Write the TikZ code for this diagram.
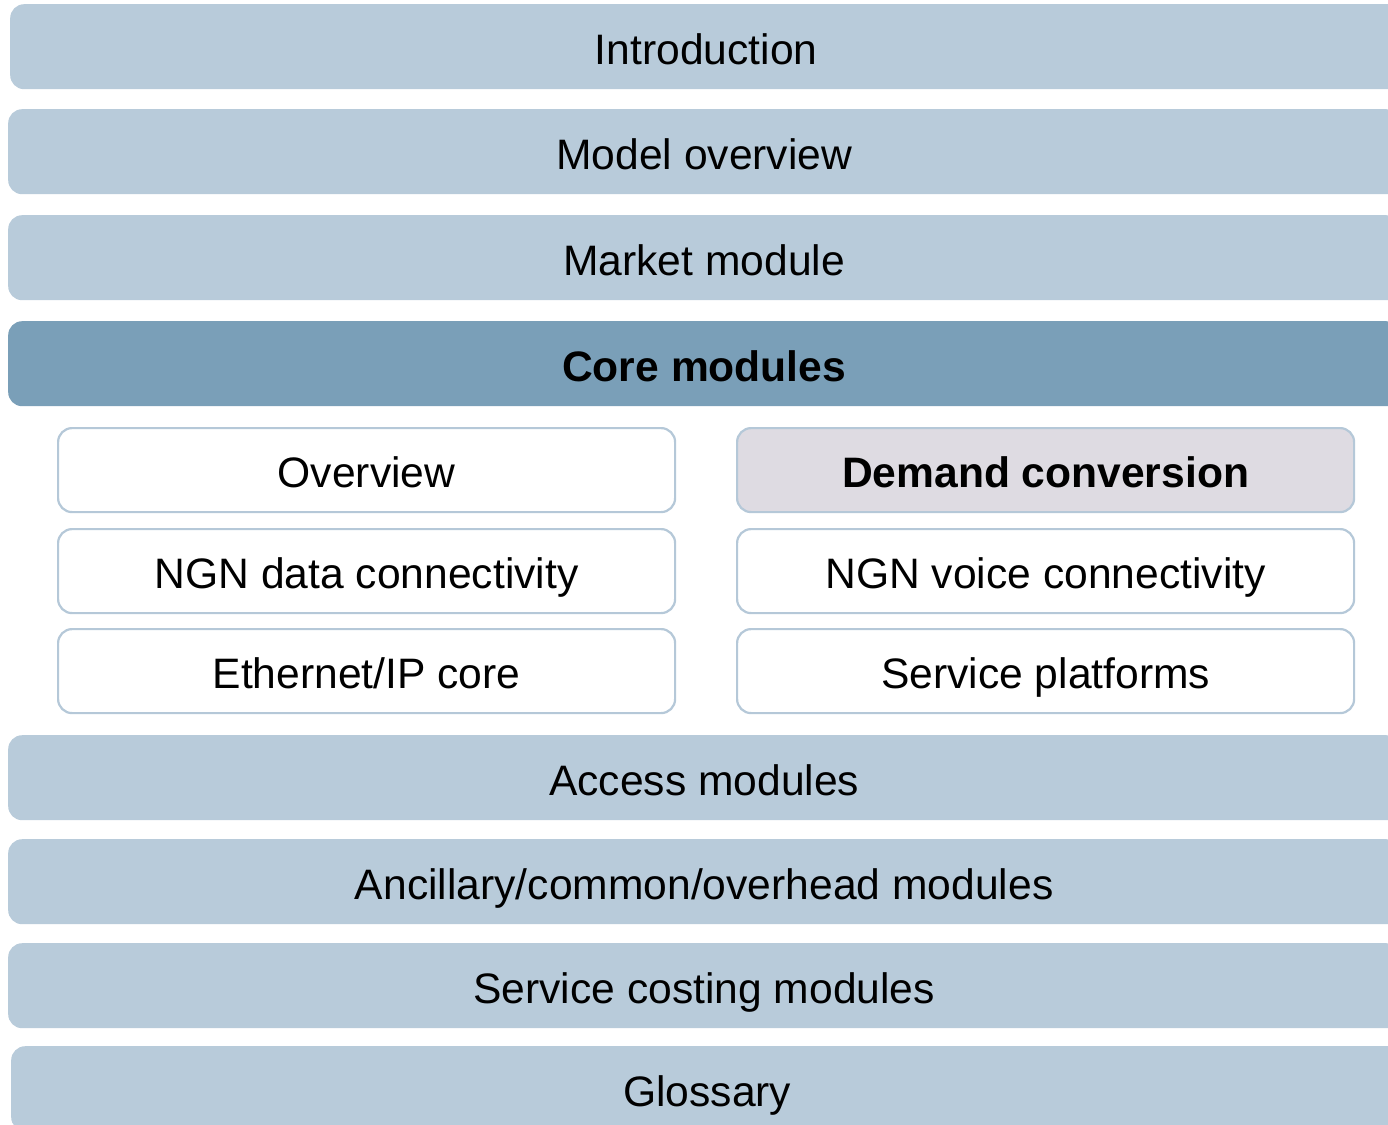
\documentclass[tikz,border=0pt]{standalone}
\usepackage{fontspec}
\setmainfont{Liberation Sans}
\definecolor{barblue}{HTML}{B8CBDA}
\definecolor{coreblue}{HTML}{7A9FB8}
\definecolor{edgeblue}{HTML}{B5C8D8}
\definecolor{demandfill}{HTML}{DEDBE2}
\begin{document}
\begin{tikzpicture}[x=1pt,y=-1pt,
  label/.style={font=\fontsize{42.6}{50}\selectfont,text height=35.5pt,text depth=0pt,inner sep=0pt},
  bar/.style={label,fill=barblue,draw=none,rounded corners=14pt,minimum width=1392pt,minimum height=85pt,
    anchor=north west},
  corebar/.style={bar,fill=coreblue,font=\fontsize{42.6}{50}\selectfont\bfseries},
  sub/.style={label,fill=white,draw=edgeblue,line width=2.2pt,rounded corners=14pt,minimum width=617pt,
    minimum height=84pt,anchor=north west},
  subhi/.style={sub,fill=demandfill,font=\fontsize{42.6}{50}\selectfont\bfseries}]
\useasboundingbox (0,0) rectangle (1388,1124);
\clip (0,0) rectangle (1388,1124);
\fill[white] (0,0) rectangle (1388,1124);
% stacked chapter bars
\node[bar] (intro) at (10,4) {Introduction};
\node[bar] (overview) at (8,109) {Model overview};
\node[bar] (market) at (8,215) {Market module};
\node[corebar] (core) at (8,321) {Core modules};
\node[bar] (access) at (8,735) {Access modules};
\node[bar] (ancillary) at (8,839) {Ancillary/common/overhead modules};
\node[bar] (costing) at (8,943) {Service costing modules};
\node[bar] (glossary) at (11,1046) {Glossary};
% core module sections
\node[sub] (ov) at (57,427) {Overview};
\node[subhi] (demand) at (736,427) {Demand conversion};
\node[sub] (data) at (57,528) {NGN data connectivity};
\node[sub] (voice) at (736,528) {NGN voice connectivity};
\node[sub] (eth) at (57,628) {Ethernet/IP core};
\node[sub] (platforms) at (736,628) {Service platforms};
\end{tikzpicture}
\end{document}
